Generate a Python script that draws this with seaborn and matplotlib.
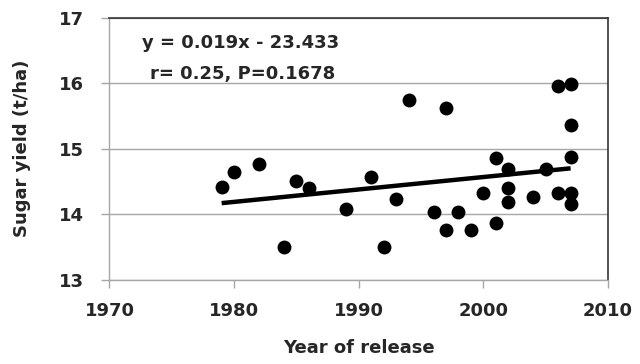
import matplotlib
matplotlib.use('Agg')
import matplotlib.pyplot as plt
import seaborn as sns
import numpy as np
import pandas as pd

# Year of release vs sugar yield (t/ha)
years = [1979, 1980, 1982, 1984, 1985, 1986, 1989, 1991, 1992, 1993,
         1994, 1996, 1997, 1997, 1998, 1999, 2000, 2001, 2001, 2002,
         2002, 2002, 2004, 2005, 2006, 2006, 2007, 2007, 2007, 2007, 2007]
sugar_yield = [14.41, 14.64, 14.77, 13.49, 14.51, 14.40, 14.08, 14.57, 13.49, 14.23,
               15.75, 14.03, 15.62, 13.76, 14.03, 13.75, 14.33, 14.86, 13.87, 14.69,
               14.40, 14.19, 14.26, 14.69, 15.96, 14.33, 15.99, 15.36, 14.88, 14.32, 14.15]

# trend line from the printed equation
slope, intercept = 0.019, -23.433
eq_text = 'y = 0.019x - 23.433'
stat_text = 'r= 0.25, P=0.1678'

x_ticks = [1970, 1980, 1990, 2000, 2010]
y_ticks = [13, 14, 15, 16, 17]

df = pd.DataFrame({'year': years, 'sugar': sugar_yield})

sns.set_style('white')
plt.rcParams['font.family'] = ['DejaVu Sans']

fig = plt.figure(figsize=(6.4, 3.64), dpi=100)
ax = fig.add_axes([0.171, 0.232, 0.779, 0.719])

ax.grid(axis='y', color='#a6a6a6', linewidth=1.0)
ax.set_axisbelow(True)

sns.scatterplot(data=df, x='year', y='sugar', ax=ax, color='black',
                s=100, edgecolor='black', linewidth=0, zorder=3)

x_fit = np.array([min(years), max(years)])
ax.plot(x_fit, slope * x_fit + intercept, color='black', linewidth=3.2,
        solid_capstyle='butt', zorder=2)

ax.set_xlim(1970, 2010)
ax.set_ylim(13, 17)
ax.set_xticks(x_ticks)
ax.set_yticks(y_ticks)
ax.tick_params(axis='both', labelsize=13, length=5.5, color='#a6a6a6',
               direction='out', width=1)
ax.tick_params(axis='x', bottom=True, pad=11)
ax.tick_params(axis='y', left=True, pad=13)
for lab in ax.get_xticklabels() + ax.get_yticklabels():
    lab.set_fontweight('bold')

for side in ['left', 'bottom']:
    ax.spines[side].set_color('#a6a6a6')
    ax.spines[side].set_linewidth(1.0)
for side in ['top', 'right']:
    ax.spines[side].set_color('#333333')
    ax.spines[side].set_linewidth(1.2)

ax.set_xlabel('Year of release', fontsize=13, fontweight='bold', labelpad=13)
ax.set_ylabel('Sugar yield (t/ha)', fontsize=13, fontweight='bold', labelpad=20)

ax.text(0.065, 0.905, eq_text, transform=ax.transAxes, fontsize=13,
        fontweight='bold', va='center', ha='left')
ax.text(0.082, 0.785, stat_text, transform=ax.transAxes, fontsize=13,
        fontweight='bold', va='center', ha='left')

fig.savefig('out.png', dpi=100)
